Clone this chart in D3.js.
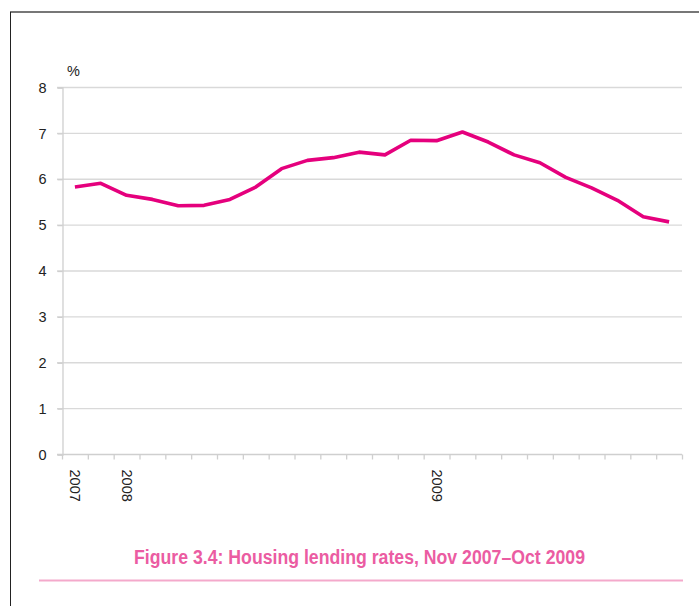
<!DOCTYPE html>
<html>
<head>
<meta charset="utf-8">
<script src="https://cdn.jsdelivr.net/npm/d3@7"></script>
<style>
  body { margin:0; background:#fff; }
  svg { display:block; font-family:"Liberation Sans Narrow","Arial Narrow","Liberation Sans",Arial,sans-serif; }
</style>
</head>
<body>
<div id="chart"></div>
<script>
const months = ["Nov 2007","Dec 2007","Jan 2008","Feb 2008","Mar 2008","Apr 2008","May 2008","Jun 2008",
  "Jul 2008","Aug 2008","Sep 2008","Oct 2008","Nov 2008","Dec 2008","Jan 2009","Feb 2009",
  "Mar 2009","Apr 2009","May 2009","Jun 2009","Jul 2009","Aug 2009","Sep 2009","Oct 2009"]
const rates = [5.82,5.90,5.64,5.55,5.41,5.42,5.55,5.82,6.22,6.40,6.46,6.58,6.52,6.84,6.83,7.02,
  6.80,6.52,6.35,6.03,5.80,5.53,5.17,5.06]
// only these categories get a year label
const yearLabels = {"Nov 2007":"2007","Jan 2008":"2008","Jan 2009":"2009"}
const yTicks = [0,1,2,3,4,5,6,7,8]
const title = "Figure 3.4: Housing lending rates, Nov 2007\u2013Oct 2009"

const W = 699, H = 606
const plot = {left:62, right:682, top:87, bottom:454}

const svg = d3.select("#chart").append("svg")
  .attr("width", W).attr("height", H)

// page frame
svg.append("line").attr("x1",10).attr("x2",W).attr("y1",12).attr("y2",12)
  .style("stroke","#777").style("stroke-width",2)
svg.append("line").attr("x1",10.5).attr("x2",10.5).attr("y1",12).attr("y2",H)
  .style("stroke","#222").style("stroke-width",1)

const x = d3.scaleBand().domain(months).range([plot.left, plot.right]).padding(0)
const y = d3.scaleLinear().domain([0,8]).range([plot.bottom, plot.top])

// gridlines
svg.selectAll(null)
  .data(yTicks.filter(d=>d>0))
  .enter()
  .append("line")
  .attr("x1",plot.left-5)
  .attr("x2",plot.right)
  .attr("y1",d=>y(d)+0.5)
  .attr("y2",d=>y(d)+0.5)
  .style("stroke","#d9d9d9")
  .style("stroke-width",1.3)

// y axis
const yAxis = svg.append("g")
  .attr("transform","translate(" + (plot.left+0.5) + ",0.5)")
  .call(d3.axisLeft(y).tickValues(yTicks).tickSize(5).tickPadding(11))
yAxis.select(".domain").style("stroke","#cfcfcf").style("stroke-width",1.3)
yAxis.selectAll(".tick line").style("stroke","#cfcfcf").style("stroke-width",1.3)
yAxis.selectAll(".tick text").style("font-size","14.5px").style("fill","#222")

// x axis with ticks between categories
const xAxis = svg.append("g")
  .attr("transform","translate(0," + (plot.bottom+0.5) + ")")
  .call(d3.axisBottom(x).tickSize(0).tickFormat(d=>yearLabels[d] || ""))
xAxis.select(".domain").attr("d","M" + (plot.left-5) + ",0H" + plot.right)
  .style("stroke","#cfcfcf").style("stroke-width",1.3)
xAxis.selectAll(".tick text")
  .attr("transform","rotate(90)")
  .attr("x",15).attr("y",0).attr("dy","0.35em")
  .style("text-anchor","start")
  .style("font-size","14.5px").style("fill","#222")
xAxis.selectAll(null)
  .data(months.concat(["end"]))
  .enter()
  .append("line")
  .attr("x1",(d,i)=>i<months.length ? x(d)+0.5 : plot.right+0.5)
  .attr("x2",(d,i)=>i<months.length ? x(d)+0.5 : plot.right+0.5)
  .attr("y1",0).attr("y2",5)
  .style("stroke","#cfcfcf").style("stroke-width",1.3)

// unit
svg.append("text").attr("x",plot.left+5).attr("y",76)
  .style("font-size","14.5px").style("fill","#222").text("%")

// series
svg.append("path")
  .datum(rates)
  .attr("d",d3.line()
    .x((d,i)=>x(months[i]) + x.bandwidth()/2)
    .y(d=>y(d)))
  .style("fill","none")
  .style("stroke","#e5007d")
  .style("stroke-width",3.6)
  .style("stroke-linejoin","round")

// caption
svg.append("text")
  .attr("x",134).attr("y",564)
  .attr("textLength",451)
  .attr("lengthAdjust","spacingAndGlyphs")
  .style("font-size","20px").style("font-weight","bold")
  .style("fill","#eb5ca2")
  .text(title)
svg.append("line").attr("x1",39).attr("x2",683).attr("y1",580.5).attr("y2",580.5)
  .style("stroke","#f4a9cb").style("stroke-width",2)
</script>
</body>
</html>
